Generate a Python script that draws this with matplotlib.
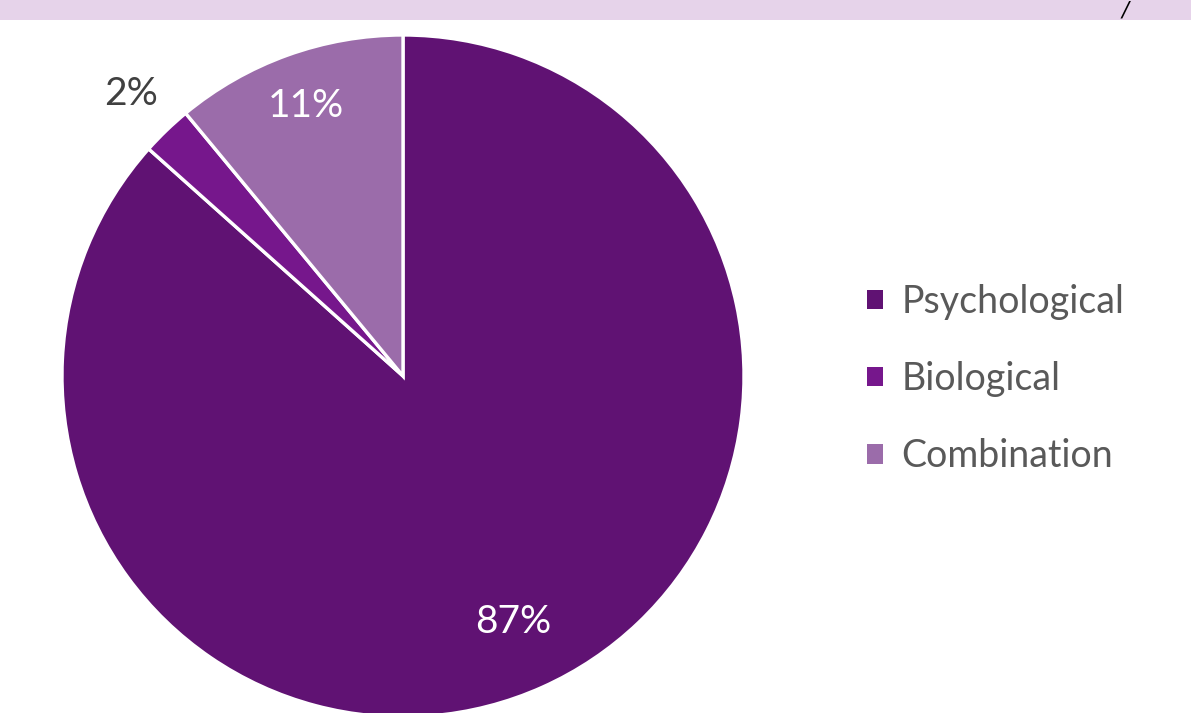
import numpy as np
import matplotlib.pyplot as plt
from matplotlib.patches import Rectangle

plt.rcParams['font.family'] = ['Lato', 'DejaVu Sans']

# data (shares)
categories = ["Psychological", "Biological", "Combination"]
shares = [86.6, 2.4, 11.0]
colors = ["#601273", "#76178c", "#9b6caa"]
label_colors = ["white", "#404040", "white"]
label_dist = [0.79, 1.15, 0.84]

W, H = 1191, 713
fig = plt.figure(figsize=(W / 100, H / 100), dpi=100)

# top band
fig.patches.append(Rectangle((0, 1 - 20 / H), 1, 20 / H, transform=fig.transFigure,
                             facecolor="#e6d3ea", edgecolor="none"))
fig.text(1125 / W, 1 - 0.5 / H, "/", fontsize=15, style="italic", color="black",
         ha="center", va="top", family="DejaVu Sans")

cx, cy, r = 403, 376, 341
ax = fig.add_axes([(cx - r) / W, (H - cy - r) / H, 2 * r / W, 2 * r / H])
wedges, _ = ax.pie(shares, colors=colors, startangle=90, counterclock=False,
                   radius=1, wedgeprops=dict(edgecolor="white", linewidth=2.4))
ax.set_xlim(-1, 1)
ax.set_ylim(-1, 1)
ax.set_aspect("equal")
ax.axis("off")

for w, s, c, d in zip(wedges, shares, label_colors, label_dist):
    mid = np.deg2rad((w.theta1 + w.theta2) / 2)
    ax.text(d * np.cos(mid), d * np.sin(mid), f"{s:.0f}%", ha="center", va="center",
            fontsize=28, color=c)

leg = fig.legend(wedges, categories, loc="upper left",
                 bbox_to_anchor=(833 / W, 1 - 250 / H), frameon=False,
                 fontsize=27, labelcolor="#595959", handlelength=0.42,
                 handleheight=0.42, handletextpad=0.5, labelspacing=1.1)
for h in leg.legend_handles:
    h.set_edgecolor("none")

fig.savefig("out.png", dpi=100, facecolor="white")
